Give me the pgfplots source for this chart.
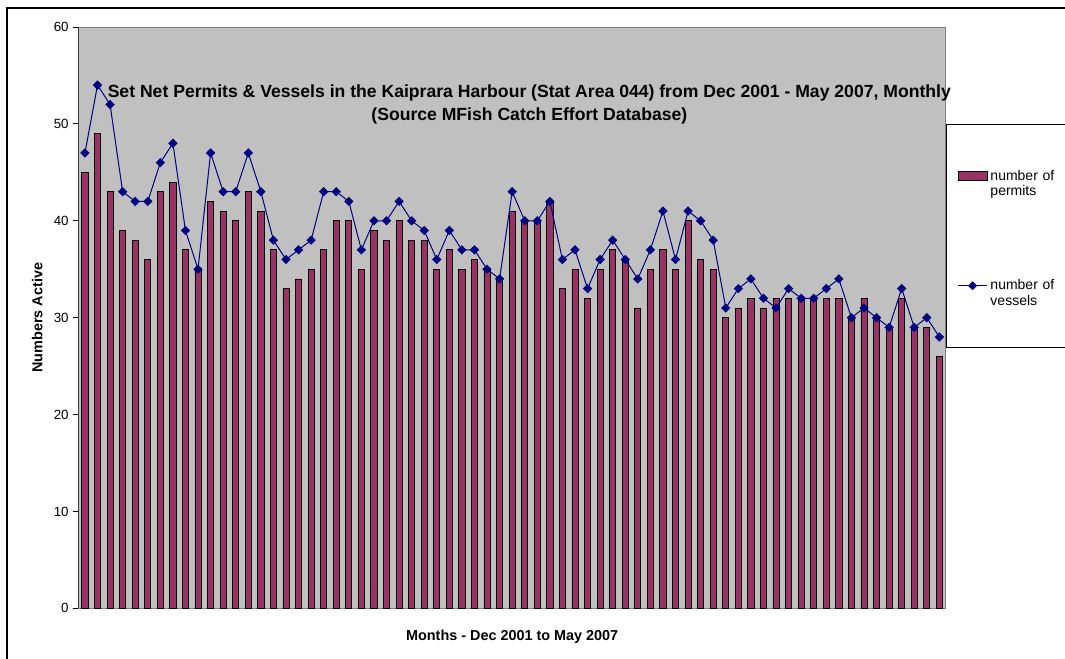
\documentclass[border=0pt]{standalone}
\usepackage{pgfplots}
\usepackage{pgfplotstable}
\pgfplotsset{compat=1.18}
\usepackage{fontspec}
\setmainfont{Liberation Sans}
\definecolor{barcol}{HTML}{993366}
\definecolor{navyc}{HTML}{000080}
\definecolor{plotbg}{HTML}{C0C0C0}
\pgfplotstableread{
x p v
1 45 47
2 49 54
3 43 52
4 39 43
5 38 42
6 36 42
7 43 46
8 44 48
9 37 39
10 35 35
11 42 47
12 41 43
13 40 43
14 43 47
15 41 43
16 37 38
17 33 36
18 34 37
19 35 38
20 37 43
21 40 43
22 40 42
23 35 37
24 39 40
25 38 40
26 40 42
27 38 40
28 38 39
29 35 36
30 37 39
31 35 37
32 36 37
33 35 35
34 34 34
35 41 43
36 40 40
37 40 40
38 42 42
39 33 36
40 35 37
41 32 33
42 35 36
43 37 38
44 36 36
45 31 34
46 35 37
47 37 41
48 35 36
49 40 41
50 36 40
51 35 38
52 30 31
53 31 33
54 32 34
55 31 32
56 32 31
57 32 33
58 32 32
59 32 32
60 32 33
61 32 34
62 30 30
63 32 31
64 30 30
65 29 29
66 32 33
67 29 29
68 29 30
69 26 28
}\datatable
\begin{document}
\begin{tikzpicture}
\path[use as bounding box] (0,0) rectangle (798.75pt,494.25pt);
\draw[line width=1.4pt] (5pt,-10pt) -- (5pt,488pt) -- (820pt,488pt);
\begin{axis}[
  at={(59pt,38pt)}, anchor=south west,
  scale only axis, width=650.25pt, height=436pt,
  xmin=0.5, xmax=69.5, ymin=0, ymax=60,
  xtick=\empty, ytick={0,10,...,60}, ytick pos=left,
  tick align=outside, major tick length=4pt,
  tick style={black, line width=0.6pt},
  y tick label style={font=\fontsize{10}{12}\selectfont},
  /pgf/number format/assume math mode=true,
  axis background/.style={fill=plotbg},
  axis line style={draw=gray, line width=0.6pt},
  ylabel={\fontsize{10.8}{13}\selectfont\bfseries Numbers Active},
  ylabel style={at={(axis description cs:-0.0477,0.5)}, anchor=center},
  xlabel={\fontsize{10.8}{13}\selectfont\bfseries Months - Dec 2001 to May 2007},
  xlabel style={at={(axis description cs:0.5,-0.0545)}, anchor=base},
  legend style={at={(axis description cs:1.001,0.8333)}, anchor=north west,
    name=leg, draw=none, fill=white, inner xsep=8pt, inner ysep=32.5pt,
    row sep=69pt, font=\fontsize{10.5}{11.6}\selectfont,
    cells={inner xsep=1.5pt}},
  legend cell align=left,
]
\addplot[ybar, bar width=4.6pt, fill=barcol, draw=black, line width=0.6pt,
  legend image code/.code={\draw[fill=barcol, draw=black, line width=0.6pt] (0pt,-3pt) rectangle (22pt,3.5pt);}]
  table[x=x, y=p] {\datatable};
\addlegendentry[text width=58pt, align=left]{number of\\permits}
\addplot[color=navyc, line width=0.75pt, mark=square*, mark size=2.1pt,
  mark options={rotate=45, fill=navyc, solid},
  legend image code/.code={\draw[navyc, line width=0.75pt] (0pt,0pt) -- (22pt,0pt); \fill[navyc] (11pt,0pt) +(0,2.8pt) -- +(2.8pt,0) -- +(0,-2.8pt) -- +(-2.8pt,0) -- cycle;}]
  table[x=x, y=v] {\datatable};
\addlegendentry[text width=58pt, align=left]{number of\\vessels}
\end{axis}
\draw[black, line width=0.6pt] (leg.north west) rectangle ([yshift=-6.75pt]leg.south east);
\draw[black!75, line width=0.9pt] (59pt,38pt) -- (59pt,474pt);
\node[anchor=base, font=\fontsize{13.2}{15}\selectfont\bfseries] at (397pt,420.75pt) {Set Net Permits \& Vessels in the Kaiprara Harbour (Stat Area 044) from Dec 2001 - May 2007, Monthly};
\node[anchor=base, font=\fontsize{13.2}{15}\selectfont\bfseries] at (397pt,403.5pt) {(Source MFish Catch Effort Database)};
\end{tikzpicture}
\end{document}
